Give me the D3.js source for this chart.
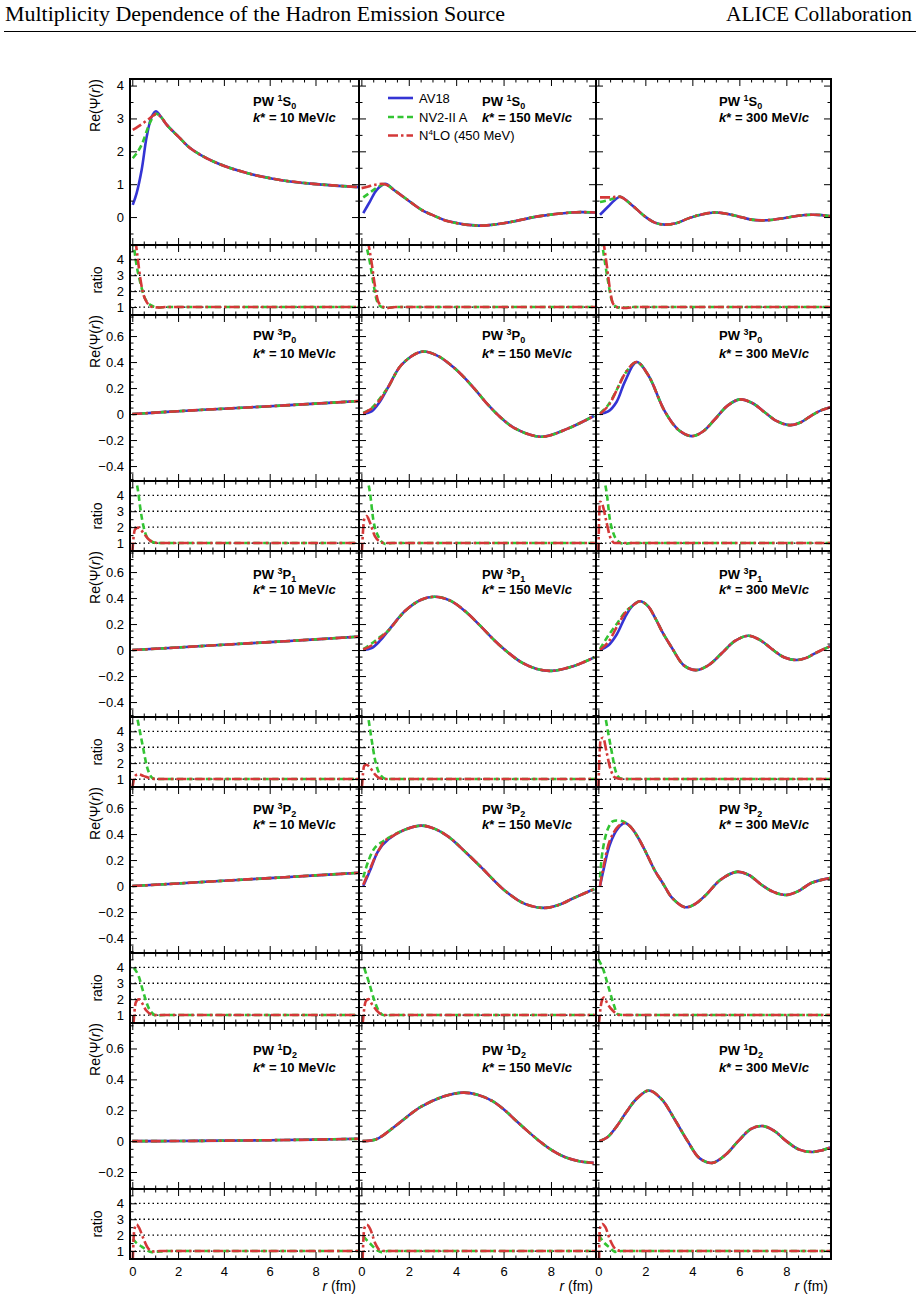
<!DOCTYPE html>
<html>
<head>
<meta charset="utf-8">
<script src="https://cdn.jsdelivr.net/npm/d3@7"></script>
<style>
  body { margin: 0; background: #fff; }
</style>
</head>
<body>
<div id="chart"></div>
<script>
// ---- labels ----
const headerLeft = "Multiplicity Dependence of the Hadron Emission Source"
const headerRight = "ALICE Collaboration"
const momenta = [10, 150, 300]            // k* in MeV/c, one per column
const waveSpin = ["1", "3", "3", "3", "1"]  // 2S+1, one per row
const waveL = ["S", "P", "P", "P", "D"]
const waveJ = ["0", "0", "1", "2", "2"]
const modelNames = ["AV18", "NV2-II A", "N4LO (450 MeV)"]

// ---- tick values ----
const xMajor = [0, 2, 4, 6, 8]
const ratioMajor = [1, 2, 3, 4]
const mainMajor = [
    [0, 1, 2, 3, 4],
    [-0.4, -0.2, 0, 0.2, 0.4, 0.6],
    [-0.4, -0.2, 0, 0.2, 0.4, 0.6],
    [-0.4, -0.2, 0, 0.2, 0.4, 0.6],
    [-0.2, 0, 0.2, 0.4, 0.6]
]

// ---- data: [r (fm), Re(Psi)] ; heads differ per model, tails are shared ----
// PW 1S0
const S0k10Av = [[0.02,0.37],[0.19,0.73],[0.41,1.44],[0.63,2.45],[0.85,3.06],[1.03,3.22]]
const S0k10Nv = [[0.02,1.79],[0.2,1.95],[0.41,2.2],[0.7,2.75],[0.88,3.02],[1.03,3.14]]
const S0k10N4 = [[0.02,2.65],[0.25,2.75],[0.48,2.86],[0.75,3.0],[0.9,3.08],[1.03,3.14]]
const S0k10Tail = [[1.25,3.05],[1.5,2.81],[2.08,2.4],[2.52,2.1],[3.54,1.69],[5.0,1.34],[6.45,1.13],[7.9,1.01],[9.9,0.91]]
const S0k150Av = [[0.08,0.12],[0.36,0.47],[0.65,0.83],[1.0,1.01]]
const S0k150Nv = [[0.08,0.6],[0.43,0.78],[0.78,0.95],[1.0,1.0]]
const S0k150N4 = [[0.01,0.88],[0.3,0.93],[0.57,0.98],[1.0,1.0]]
const S0k150Tail = [[1.42,0.8],[1.84,0.58],[2.54,0.22],[3.1,0.03],[3.67,-0.13],[4.93,-0.26],[6.06,-0.18],[7.46,0.02],[8.87,0.14],[9.3,0.15],[9.86,0.14]]
const S0k300Av = [[0.07,0.07],[0.42,0.32],[0.7,0.52],[0.93,0.62]]
const S0k300Nv = [[0.07,0.46],[0.5,0.53],[0.8,0.6],[0.93,0.62]]
const S0k300N4 = [[0.07,0.6],[0.57,0.6],[0.93,0.62]]
const S0k300Tail = [[1.42,0.37],[1.98,0.02],[2.4,-0.17],[2.83,-0.23],[3.3,-0.19],[3.83,-0.04],[4.4,0.08],[4.96,0.14],[5.45,0.1],[5.95,0.02],[6.45,-0.07],[6.95,-0.1],[7.45,-0.08],[7.94,-0.03],[8.5,0.04],[9.08,0.07],[9.5,0.06],[9.93,0.02]]

// PW 3P0
const P0k10Tail = [[0,0],[1,0.011],[2,0.022],[4,0.041],[6,0.06],[8,0.08],[9.9,0.1]]
const P0k150Av = [[0.08,0],[0.43,0.02],[0.78,0.095]]
const P0k150Nv = [[0.08,0.01],[0.43,0.045],[0.78,0.12]]
const P0k150N4 = [[0.08,0.005],[0.5,0.05],[0.85,0.125]]
const P0k150Tail = [[1.14,0.21],[1.7,0.38],[2.54,0.48],[3.2,0.45],[3.95,0.35],[4.7,0.21],[5.35,0.07],[5.9,-0.03],[6.48,-0.11],[7.6,-0.175],[8.73,-0.11],[9.83,-0.013]]
const P0k300Av = [[0.07,0],[0.42,0.02],[0.78,0.095],[1.13,0.25]]
const P0k300Nv = [[0.07,0.005],[0.42,0.07],[0.78,0.185],[1.13,0.31]]
const P0k300N4 = [[0.07,0],[0.45,0.07],[0.85,0.21],[1.2,0.33]]
const P0k300Tail = [[1.63,0.4],[2.12,0.3],[2.83,0.02],[3.4,-0.12],[3.97,-0.17],[4.45,-0.134],[4.96,-0.04],[5.5,0.065],[6.03,0.113],[6.55,0.085],[7.09,0.012],[7.6,-0.055],[8.15,-0.085],[8.6,-0.065],[9.08,-0.01],[9.5,0.03],[9.93,0.056]]

// PW 3P1
const P1k10Tail = [[0,0],[2,0.02],[4,0.041],[6,0.061],[8,0.082],[9.9,0.103]]
const P1k150Av = [[0.08,0],[0.43,0.015],[0.78,0.07]]
const P1k150Nv = [[0.08,0.008],[0.43,0.05],[0.78,0.1]]
const P1k150N4 = [[0.08,0.004],[0.43,0.035],[0.78,0.09]]
const P1k150Tail = [[1.14,0.15],[1.84,0.3],[2.5,0.385],[3.1,0.41],[3.75,0.38],[4.37,0.3],[5.0,0.19],[5.64,0.07],[6.2,-0.02],[6.76,-0.095],[7.4,-0.145],[8.03,-0.16],[9.0,-0.12],[9.83,-0.056]]
const P1k300Av = [[0.07,0],[0.42,0.035],[0.78,0.12],[1.13,0.25]]
const P1k300Nv = [[0.07,0.008],[0.42,0.11],[0.78,0.2],[1.13,0.29]]
const P1k300N4 = [[0.07,0],[0.42,0.06],[0.85,0.2],[1.2,0.3]]
const P1k300Tail = [[1.45,0.34],[1.77,0.375],[2.1,0.34],[2.41,0.25],[2.75,0.13],[3.12,0.02],[3.65,-0.12],[4.18,-0.154],[4.7,-0.115],[5.25,-0.025],[5.8,0.068],[6.38,0.11],[6.9,0.075],[7.37,0.01],[7.9,-0.055],[8.44,-0.077],[8.85,-0.06],[9.22,-0.025],[9.93,0.035]]

// PW 3P2
const P2k10Tail = [[0,0],[2,0.02],[4,0.041],[6,0.061],[8,0.082],[9.9,0.102]]
const P2k150Av = [[0.08,0],[0.36,0.117],[0.71,0.27],[1.14,0.36]]
const P2k150Nv = [[0.08,0.066],[0.29,0.19],[0.57,0.295],[0.92,0.345],[1.14,0.37]]
const P2k150N4 = [[0.08,0.01],[0.36,0.13],[0.64,0.245],[1.0,0.35],[1.14,0.365]]
const P2k150Tail = [[1.84,0.434],[2.54,0.465],[3.1,0.44],[3.67,0.38],[4.4,0.26],[5.08,0.14],[6.06,-0.036],[6.9,-0.137],[7.75,-0.168],[8.4,-0.14],[8.87,-0.1],[9.83,-0.023]]
const P2k300Av = [[0.07,0],[0.21,0.117],[0.49,0.32],[0.85,0.447],[1.13,0.485]]
const P2k300Nv = [[0.07,0.066],[0.18,0.27],[0.42,0.447],[0.63,0.5],[0.99,0.5],[1.13,0.49]]
const P2k300N4 = [[0.07,0],[0.21,0.14],[0.49,0.35],[0.85,0.46],[1.13,0.485]]
const P2k300Tail = [[1.4,0.45],[1.7,0.37],[2.05,0.25],[2.41,0.117],[2.75,0.02],[3.12,-0.087],[3.69,-0.163],[4.1,-0.14],[4.54,-0.075],[5.2,0.048],[5.89,0.109],[6.4,0.085],[6.94,0.01],[7.45,-0.045],[8.0,-0.069],[8.5,-0.04],[9.08,0.025],[9.93,0.064]]

// PW 1D2
const D2k10Tail = [[0,0],[2,0.0007],[4,0.003],[6,0.006],[8,0.01],[9.9,0.015]]
const D2k150Tail = [[0.05,0],[0.63,0.012],[1.45,0.1],[2.47,0.218],[3.49,0.29],[4.3,0.314],[4.9,0.3],[5.52,0.26],[6.05,0.2],[6.54,0.13],[7.05,0.06],[7.56,-0.006],[8.05,-0.06],[8.58,-0.103],[9.2,-0.13],[9.8,-0.141]]
const D2k300Tail = [[0.05,0],[0.4,0.027],[0.8,0.1],[1.2,0.19],[1.6,0.27],[2.15,0.328],[2.7,0.27],[3.25,0.14],[3.8,0.0],[4.3,-0.11],[4.85,-0.141],[5.4,-0.09],[5.95,0.0],[6.5,0.08],[7.0,0.098],[7.5,0.065],[8.0,0.0],[8.55,-0.055],[9.1,-0.07],[9.5,-0.06],[9.9,-0.04]]

// ratios to AV18: [r, ratio]
const S0k10RNv = [[0.04,5.2],[0.19,3.6],[0.34,2.6],[0.55,1.55],[0.85,1.08],[1.14,0.97],[1.5,1],[9.9,1]]
const S0k10RN4 = [[0.14,5.2],[0.26,3.8],[0.34,2.9],[0.45,2.0],[0.63,1.31],[0.9,1.0],[1.14,0.97],[1.5,1],[9.9,1]]
const S0k150RNv = [[0.15,5.2],[0.36,3.81],[0.5,2.56],[0.65,1.42],[0.86,1.0],[1.07,0.94],[1.4,1],[9.9,1]]
const S0k150RN4 = [[0.27,5.2],[0.43,3.81],[0.57,2.36],[0.72,1.31],[0.93,1.0],[1.1,0.94],[1.45,1],[9.9,1]]
const S0k300RNv = [[0.14,5.2],[0.28,3.81],[0.42,2.56],[0.57,1.42],[0.78,1.0],[0.99,0.94],[1.4,1],[9.9,1]]
const S0k300RN4 = [[0.21,5.2],[0.38,3.4],[0.49,2.15],[0.63,1.2],[0.85,0.97],[1.2,0.94],[1.55,1],[9.9,1]]
const P0k10RNv = [[0.12,5.2],[0.26,4.2],[0.34,3.3],[0.48,2.1],[0.7,1.25],[1.07,1.0],[9.9,1]]
const P0k10RN4 = [[0,0.4],[0.06,1.43],[0.12,1.86],[0.26,1.97],[0.48,1.65],[0.7,1.25],[0.92,1.05],[1.2,1],[9.9,1]]
const P0k150RNv = [[0.22,5.2],[0.36,4.2],[0.5,2.5],[0.71,1.43],[1.0,0.95],[1.3,1],[9.9,1]]
const P0k150RN4 = [[0.02,0.4],[0.12,2.5],[0.22,2.7],[0.36,2.3],[0.57,1.43],[0.78,1.1],[1.0,1],[9.9,1]]
const P0k300RNv = [[0.21,5.2],[0.35,4.2],[0.49,2.5],[0.63,1.65],[0.85,1.1],[1.1,0.95],[1.4,1],[9.9,1]]
const P0k300RN4 = [[0,0.4],[0.07,3.6],[0.15,3.5],[0.35,2.3],[0.49,1.43],[0.7,1.0],[9.9,1]]
const P1k10RNv = [[0.15,5.3],[0.34,3.94],[0.48,2.9],[0.63,1.84],[0.85,1.1],[1.0,1],[9.9,1]]
const P1k10RN4 = [[0,0.4],[0.12,1.2],[0.26,1.3],[0.48,1.2],[0.78,1.05],[1.1,1],[9.9,1]]
const P1k150RNv = [[0.25,5.3],[0.43,3.5],[0.57,2.26],[0.78,1.3],[1.07,1.0],[9.9,1]]
const P1k150RN4 = [[0.02,0.4],[0.12,1.84],[0.22,1.9],[0.36,1.73],[0.57,1.3],[0.78,1.05],[1.0,1],[9.9,1]]
const P1k300RNv = [[0.25,5.3],[0.42,3.9],[0.57,2.7],[0.71,1.63],[0.92,1.05],[1.15,1],[9.9,1]]
const P1k300RN4 = [[0,0.4],[0.1,3.5],[0.2,3.6],[0.35,2.7],[0.49,1.77],[0.7,1.1],[0.95,1],[9.9,1]]
const P2k10RNv = [[0.07,3.96],[0.28,3.44],[0.49,2.4],[0.74,1.37],[1.06,0.97],[1.4,1],[9.9,1]]
const P2k10RN4 = [[0.05,0.4],[0.15,1.78],[0.28,1.99],[0.45,1.7],[0.6,1.3],[0.95,1.0],[9.9,1]]
const P2k150RNv = [[0.12,3.96],[0.33,3.0],[0.53,2.0],[0.73,1.27],[1.0,0.97],[1.3,1],[9.9,1]]
const P2k150RN4 = [[0.05,0.4],[0.18,1.85],[0.29,2.0],[0.44,1.7],[0.64,1.3],[0.95,1.0],[9.9,1]]
const P2k300RNv = [[0.0,4.5],[0.21,3.86],[0.42,2.82],[0.63,1.78],[0.83,1.05],[1.1,1],[9.9,1]]
const P2k300RN4 = [[0.02,0.4],[0.14,1.85],[0.24,2.1],[0.39,1.7],[0.6,1.3],[0.9,1.0],[9.9,1]]
const D2k10RNv = [[0.02,1.77],[0.19,1.5],[0.41,1.28],[0.63,1.06],[0.85,0.93],[1.2,0.97],[1.5,1],[9.9,1]]
const D2k10RN4 = [[0.02,0.4],[0.08,2.25],[0.19,2.67],[0.3,2.45],[0.48,1.8],[0.7,1.15],[0.92,0.97],[1.2,1],[9.9,1]]
const D2k150RNv = [[0.08,1.92],[0.35,1.5],[0.66,1.06],[0.86,0.92],[1.1,1],[9.9,1]]
const D2k150RN4 = [[0.05,0.4],[0.12,2.4],[0.23,2.65],[0.37,2.4],[0.58,1.5],[0.78,1.06],[1.0,1],[9.9,1]]
const D2k300RNv = [[0.02,2.0],[0.2,1.6],[0.5,1.2],[0.7,0.95],[1.0,1],[9.9,1]]
const D2k300RN4 = [[0.03,0.4],[0.06,2.4],[0.17,2.7],[0.3,2.5],[0.5,1.7],[0.75,1.1],[1.0,1],[9.9,1]]

const none = []

// table of panels (row = partial wave, col = k*)
const panels = [
    {row: 0, col: 0, tail: S0k10Tail, av: S0k10Av, nv: S0k10Nv, n4: S0k10N4, rnv: S0k10RNv, rn4: S0k10RN4},
    {row: 0, col: 1, tail: S0k150Tail, av: S0k150Av, nv: S0k150Nv, n4: S0k150N4, rnv: S0k150RNv, rn4: S0k150RN4},
    {row: 0, col: 2, tail: S0k300Tail, av: S0k300Av, nv: S0k300Nv, n4: S0k300N4, rnv: S0k300RNv, rn4: S0k300RN4},
    {row: 1, col: 0, tail: P0k10Tail, av: none, nv: none, n4: none, rnv: P0k10RNv, rn4: P0k10RN4},
    {row: 1, col: 1, tail: P0k150Tail, av: P0k150Av, nv: P0k150Nv, n4: P0k150N4, rnv: P0k150RNv, rn4: P0k150RN4},
    {row: 1, col: 2, tail: P0k300Tail, av: P0k300Av, nv: P0k300Nv, n4: P0k300N4, rnv: P0k300RNv, rn4: P0k300RN4},
    {row: 2, col: 0, tail: P1k10Tail, av: none, nv: none, n4: none, rnv: P1k10RNv, rn4: P1k10RN4},
    {row: 2, col: 1, tail: P1k150Tail, av: P1k150Av, nv: P1k150Nv, n4: P1k150N4, rnv: P1k150RNv, rn4: P1k150RN4},
    {row: 2, col: 2, tail: P1k300Tail, av: P1k300Av, nv: P1k300Nv, n4: P1k300N4, rnv: P1k300RNv, rn4: P1k300RN4},
    {row: 3, col: 0, tail: P2k10Tail, av: none, nv: none, n4: none, rnv: P2k10RNv, rn4: P2k10RN4},
    {row: 3, col: 1, tail: P2k150Tail, av: P2k150Av, nv: P2k150Nv, n4: P2k150N4, rnv: P2k150RNv, rn4: P2k150RN4},
    {row: 3, col: 2, tail: P2k300Tail, av: P2k300Av, nv: P2k300Nv, n4: P2k300N4, rnv: P2k300RNv, rn4: P2k300RN4},
    {row: 4, col: 0, tail: D2k10Tail, av: none, nv: none, n4: none, rnv: D2k10RNv, rn4: D2k10RN4},
    {row: 4, col: 1, tail: D2k150Tail, av: none, nv: none, n4: none, rnv: D2k150RNv, rn4: D2k150RN4},
    {row: 4, col: 2, tail: D2k300Tail, av: none, nv: none, n4: none, rnv: D2k300RNv, rn4: D2k300RN4}
]

// ---- layout ----
const width = 920, height = 1298
const colEdges = [130, 359, 596, 831]
const top0 = 79, mainH = 166, ratioH = 70, rowH = 236
const xDomain = [-0.1, 9.9]
const mainDomains = [[-0.85, 4.2], [-0.515, 0.762], [-0.515, 0.762], [-0.515, 0.762], [-0.31, 0.765]]
const mainMinorStep = [0.5, 0.05, 0.05, 0.05, 0.05]
const ratioDomain = [0.5, 4.9]
const pwDy = [27, 25, 28, 27, 32]
const kDy = [43, 43, 43, 42, 49]

const colors = {av: "#3434d4", nv: "#33c433", n4: "#d43838"}
const dashes = {av: null, nv: "6,3.5", n4: "10,3,2.5,3"}
const sans = "'Liberation Sans', Arial, Helvetica, sans-serif"
const serif = "'Liberation Serif', 'Times New Roman', serif"

const svg = d3.select("#chart").append("svg")
    .attr("width", width)
    .attr("height", height)
    .style("font-family", sans)

// header
svg.append("text")
    .attr("x", 5).attr("y", 21)
    .attr("font-family", serif)
    .attr("font-size", 20.5)
    .attr("textLength", 500)
    .attr("lengthAdjust", "spacingAndGlyphs")
    .text(headerLeft)
svg.append("text")
    .attr("x", 726).attr("y", 21)
    .attr("font-family", serif)
    .attr("font-size", 20.5)
    .attr("textLength", 186)
    .attr("lengthAdjust", "spacingAndGlyphs")
    .text(headerRight)
svg.append("line")
    .attr("x1", 4).attr("x2", 916)
    .attr("y1", 31.5).attr("y2", 31.5)
    .attr("stroke", "#000").attr("stroke-width", 1)

function steps(lo, hi, step) {
    return d3.range(Math.ceil(lo / step - 1e-9), Math.floor(hi / step + 1e-9) + 1).map(i => +(i * step).toFixed(4))
}

// inward ticks on all four sides of a frame
function frameTicks(g, x, y, yMajor, yMinorStep, labelY, labelX) {
    const [x0, x1] = x.range()
    const [y1, y0] = y.range()
    const xMinor = steps(0, xDomain[1], 0.5).filter(v => !xMajor.includes(v))
    const yDom = y.domain()
    const yMinor = steps(yDom[0], yDom[1], yMinorStep).filter(v => !yMajor.some(m => Math.abs(m - v) < 1e-6))
    const specs = [
        [d3.axisBottom, `translate(0,${y1})`, x, xMajor, xMinor],
        [d3.axisTop, `translate(0,${y0})`, x, xMajor, xMinor],
        [d3.axisLeft, `translate(${x0},0)`, y, yMajor, yMinor],
        [d3.axisRight, `translate(${x1},0)`, y, yMajor, yMinor]
    ]
    specs.forEach(([axisFn, tr, sc, major, minor], i) => {
        const showLabels = (i === 2 && labelY) || (i === 0 && labelX)
        const ax = g.append("g").attr("transform", tr)
            .call(axisFn(sc).tickValues(major).tickSize(-7).tickPadding(i === 0 ? 8 : 6)
                .tickFormat(showLabels ? d3.format("~g") : ""))
        ax.select(".domain").remove()
        ax.attr("font-family", sans).attr("font-size", 13)
        ax.selectAll("line").attr("stroke", "#000").attr("stroke-width", 1)
        const mn = g.append("g").attr("transform", tr)
            .call(axisFn(sc).tickValues(minor).tickSize(-3.5).tickFormat(""))
        mn.select(".domain").remove()
        mn.selectAll("line").attr("stroke", "#000").attr("stroke-width", 1)
    })
}

// smooth curves for the wave functions, monotone ones for the ratios (no overshoot on the flat part)
const line = (x, y, curve) => d3.line()
    .x(d => x(d[0]))
    .y(d => y(d[1]))
    .curve(curve)
const smooth = d3.curveCatmullRom.alpha(0.5)

panels.forEach(p => {
    const top = top0 + p.row * rowH
    const x = d3.scaleLinear().domain(xDomain).range([colEdges[p.col], colEdges[p.col + 1]])
    const y = d3.scaleLinear().domain(mainDomains[p.row]).range([top + mainH, top])
    const yr = d3.scaleLinear().domain(ratioDomain).range([top + rowH, top + mainH])
    const g = svg.append("g")
    const id = `p${p.row}${p.col}`

    // clip paths
    g.append("clipPath").attr("id", id + "m").append("rect")
        .attr("x", x.range()[0]).attr("y", top).attr("width", x.range()[1] - x.range()[0]).attr("height", mainH)
    g.append("clipPath").attr("id", id + "r").append("rect")
        .attr("x", x.range()[0]).attr("y", top + mainH).attr("width", x.range()[1] - x.range()[0]).attr("height", ratioH)

    // main curves
    const mg = g.append("g").attr("clip-path", `url(#${id}m)`)
    ;["av", "nv", "n4"].forEach(m => {
        mg.append("path")
            .datum(p[m].concat(p.tail))
            .attr("d", line(x, y, smooth))
            .attr("fill", "none")
            .attr("stroke", colors[m])
            .attr("stroke-width", 2.6)
            .attr("stroke-dasharray", dashes[m])
    })

    // ratio panel: reference lines then curves
    const rg = g.append("g").attr("clip-path", `url(#${id}r)`)
    rg.selectAll(".ref")
        .data(ratioMajor)
        .enter()
        .append("line")
        .attr("x1", x.range()[0]).attr("x2", x.range()[1])
        .attr("y1", d => yr(d)).attr("y2", d => yr(d))
        .attr("stroke", "#000")
        .attr("stroke-width", 1.3)
        .attr("stroke-dasharray", "1.5,3")
    ;[["rnv", "nv"], ["rn4", "n4"]].forEach(([k, m]) => {
        rg.append("path")
            .datum(p[k])
            .attr("d", line(x, yr, d3.curveMonotoneX))
            .attr("fill", "none")
            .attr("stroke", colors[m])
            .attr("stroke-width", 2.6)
            .attr("stroke-dasharray", dashes[m])
    })

    // axes and frames
    frameTicks(g, x, y, mainMajor[p.row], mainMinorStep[p.row], p.col === 0, false)
    frameTicks(g, x, yr, ratioMajor, 0.5, p.col === 0, p.row === 4)
    ;[[top, mainH], [top + mainH, ratioH]].forEach(([t, h]) => {
        g.append("rect")
            .attr("x", x.range()[0]).attr("y", t)
            .attr("width", x.range()[1] - x.range()[0]).attr("height", h)
            .attr("fill", "none").attr("stroke", "#000").attr("stroke-width", 2)
    })

    // panel label
    const tx = colEdges[p.col] + 123
    const pw = g.append("text").attr("x", tx).attr("y", top + pwDy[p.row])
        .attr("font-size", 13).attr("font-weight", "bold")
    pw.append("tspan").text("PW ")
    pw.append("tspan").attr("font-size", 9).attr("dy", -5).text(waveSpin[p.row])
    pw.append("tspan").attr("dy", 5).text(waveL[p.row])
    pw.append("tspan").attr("font-size", 9).attr("dy", 3).text(waveJ[p.row])
    const kt = g.append("text").attr("x", tx).attr("y", top + kDy[p.row])
        .attr("font-size", 13).attr("font-weight", "bold")
    kt.append("tspan").attr("font-style", "italic").text("k")
    kt.append("tspan").text(`* = ${momenta[p.col]} MeV/`)
    kt.append("tspan").attr("font-style", "italic").text("c")

    // axis titles
    if (p.col === 0) {
        const yt = g.append("text")
            .attr("transform", `translate(100,${top}) rotate(-90)`)
            .attr("text-anchor", "end")
            .attr("font-size", 14)
        yt.append("tspan").text("Re(\u03A8(")
        yt.append("tspan").attr("font-style", "italic").text("r")
        yt.append("tspan").text("))")
        g.append("text")
            .attr("transform", `translate(101.5,${top + mainH + ratioH / 2}) rotate(-90)`)
            .attr("text-anchor", "middle")
            .attr("font-size", 14)
            .text("ratio")
    }
    if (p.row === 4) {
        const xt = g.append("text")
            .attr("x", colEdges[p.col + 1] - 3).attr("y", top + rowH + 32)
            .attr("text-anchor", "end")
            .attr("font-size", 14)
        xt.append("tspan").attr("font-style", "italic").text("r")
        xt.append("tspan").text(" (fm)")
    }
})

// legend (middle column, first row)
const legend = svg.append("g")
const legendY = [98, 117, 135.5]
;["av", "nv", "n4"].forEach((m, i) => {
    legend.append("line")
        .attr("x1", 388).attr("x2", 413)
        .attr("y1", legendY[i]).attr("y2", legendY[i])
        .attr("stroke", colors[m]).attr("stroke-width", 2.6)
        .attr("stroke-dasharray", dashes[m])
    const t = legend.append("text").attr("x", 419).attr("y", legendY[i] + 4.5).attr("font-size", 13)
    if (m === "n4") {
        t.append("tspan").text("N")
        t.append("tspan").attr("font-size", 8).attr("dy", -5).text("4")
        t.append("tspan").attr("dy", 5).text("LO (450 MeV)")
    } else {
        t.text(modelNames[i])
    }
})
</script>
</body>
</html>
